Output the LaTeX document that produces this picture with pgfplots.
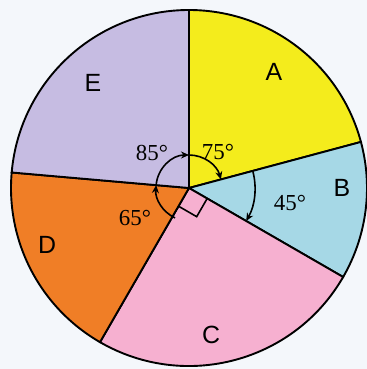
\documentclass[border=0pt]{standalone}
\usepackage{fontspec}
\setmainfont{Liberation Serif}
\newfontfamily\letterfont{Liberation Sans}
\usepackage{pgfplots}
\pgfplotsset{compat=1.18}
\usetikzlibrary{arrows.meta}

\definecolor{secA}{RGB}{244,236,28}
\definecolor{secB}{RGB}{166,216,230}
\definecolor{secC}{RGB}{246,176,208}
\definecolor{secD}{RGB}{240,126,38}
\definecolor{secE}{RGB}{198,188,226}
\definecolor{bg}{RGB}{244,247,251}

\begin{document}
\begin{tikzpicture}
\begin{axis}[
  x=1bp, y=1bp,
  xmin=-189, xmax=178, ymin=-181, ymax=188,
  hide axis, clip=false,
]
% background
\fill[bg] (axis cs:-189,-181) rectangle (axis cs:178,188);
\coordinate (ll) at (axis cs:-189,-181);
\coordinate (ur) at (axis cs:178,188);
% sectors: start angle / end angle (degrees, clockwise from top), r = 178
\filldraw[fill=secA, line width=1.9pt] (axis cs:0,0) -- (axis cs:{178*cos(90)},{178*sin(90)}) arc[start angle=90, end angle=15, radius=178bp] -- cycle;
\filldraw[fill=secB, line width=1.9pt] (axis cs:0,0) -- (axis cs:{178*cos(15)},{178*sin(15)}) arc[start angle=15, end angle=-30, radius=178bp] -- cycle;
\filldraw[fill=secC, line width=1.9pt] (axis cs:0,0) -- (axis cs:{178*cos(-30)},{178*sin(-30)}) arc[start angle=-30, end angle=-120, radius=178bp] -- cycle;
\filldraw[fill=secD, line width=1.9pt] (axis cs:0,0) -- (axis cs:{178*cos(-120)},{178*sin(-120)}) arc[start angle=-120, end angle=-185, radius=178bp] -- cycle;
\filldraw[fill=secE, line width=1.9pt] (axis cs:0,0) -- (axis cs:{178*cos(175)},{178*sin(175)}) arc[start angle=175, end angle=90, radius=178bp] -- cycle;
% right angle mark between -30 and -120
\draw[line width=1.6pt] (axis cs:{21*cos(-30)},{21*sin(-30)}) -- ++(axis direction cs:{21*cos(-120)},{21*sin(-120)}) -- (axis cs:{21*cos(-120)},{21*sin(-120)});
% angle arcs
\draw[line width=1.6pt, -{Stealth[length=8pt,width=7pt]}] (axis cs:{33*cos(-115)},{33*sin(-115)}) arc[start angle=-115, end angle=-185, radius=33bp];
\draw[line width=1.6pt, -{Stealth[length=8pt,width=7pt]}] (axis cs:{33*cos(175)},{33*sin(175)}) arc[start angle=175, end angle=90, radius=33bp];
\draw[line width=1.6pt, -{Stealth[length=8pt,width=7pt]}] (axis cs:{33*cos(90)},{33*sin(90)}) arc[start angle=90, end angle=15, radius=33bp];
\draw[line width=1.6pt, -{Stealth[length=8pt,width=7pt]}] (axis cs:{66*cos(15)},{66*sin(15)}) arc[start angle=15, end angle=-30, radius=66bp];
% sector letters
\node[font=\letterfont\fontsize{25}{25}\selectfont] at (axis cs:85,116) {A};
\node[font=\letterfont\fontsize{25}{25}\selectfont] at (axis cs:153,0) {B};
\node[font=\letterfont\fontsize{25}{25}\selectfont] at (axis cs:22,-147) {C};
\node[font=\letterfont\fontsize{25}{25}\selectfont] at (axis cs:-142,-57) {D};
\node[font=\letterfont\fontsize{25}{25}\selectfont] at (axis cs:-96,105) {E};
% angle values
\node[font=\fontsize{23}{23}\selectfont] at (axis cs:-37,35) {85°};
\node[font=\fontsize{23}{23}\selectfont] at (axis cs:29,36) {75°};
\node[font=\fontsize{23}{23}\selectfont] at (axis cs:101,-15) {45°};
\node[font=\fontsize{23}{23}\selectfont] at (axis cs:-54,-30) {65°};
\end{axis}
\pgfresetboundingbox
\path[use as bounding box] (ll) rectangle (ur);
\end{tikzpicture}
\end{document}
